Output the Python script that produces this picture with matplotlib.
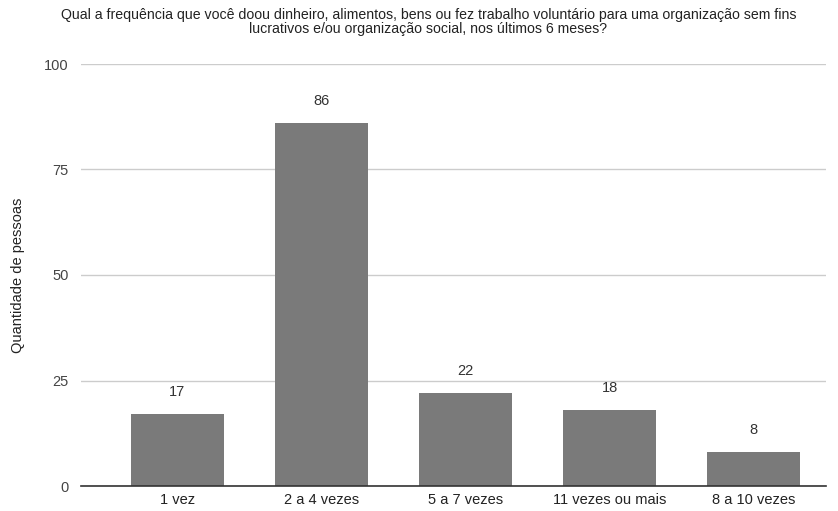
import matplotlib
matplotlib.use("Agg")
import matplotlib.pyplot as plt

categories = ["1 vez", "2 a 4 vezes", "5 a 7 vezes", "11 vezes ou mais", "8 a 10 vezes"]
values = [17, 86, 22, 18, 8]
yticks = [0, 25, 50, 75, 100]

title = ("Qual a frequência que você doou dinheiro, alimentos, bens ou fez trabalho voluntário para uma organização sem fins\n"
         "lucrativos e/ou organização social, nos últimos 6 meses?")

plt.rcParams["font.family"] = ["Liberation Sans", "DejaVu Sans"]

fig = plt.figure(figsize=(8.38, 5.11), dpi=100)
ax = fig.add_axes([81 / 838, 25 / 511, 745 / 838, 422 / 511])

x = list(range(len(categories)))
ax.bar(x, values, width=0.646, color="#7a7a7a", zorder=3)
for xi, v in zip(x, values):
    ax.text(xi, v + 3.6, str(v), ha="center", va="bottom", fontsize=10.5, color="#333333")

ax.set_xlim(-0.67, 4.503)
ax.set_ylim(0, 100)
ax.set_yticks(yticks)
ax.set_yticklabels([str(t) for t in yticks], fontsize=10.5, color="#444444")
ax.set_xticks(x)
ax.set_xticklabels(categories, fontsize=10.5, color="#222222")
ax.tick_params(axis="both", length=0)
ax.tick_params(axis="x", pad=5)
ax.tick_params(axis="y", pad=9)
ax.grid(axis="y", color="#cccccc", linewidth=1, zorder=0)
for s in ["top", "right", "left"]:
    ax.spines[s].set_visible(False)
ax.spines["bottom"].set_color("#333333")
ax.spines["bottom"].set_linewidth(1.2)
ax.spines["bottom"].set_zorder(4)

ax.set_ylabel("Quantidade de pessoas", fontsize=10.5, color="#222222")
ax.yaxis.set_label_coords((18 - 81) / 745, 0.5)
ax.yaxis.label.set_va("center")

fig.text(428.5 / 838, 1 - 21.5 / 511, title, ha="center", va="center", fontsize=10.2,
         color="#222222", linespacing=1.0, multialignment="center")

fig.savefig("out.png", dpi=100)
